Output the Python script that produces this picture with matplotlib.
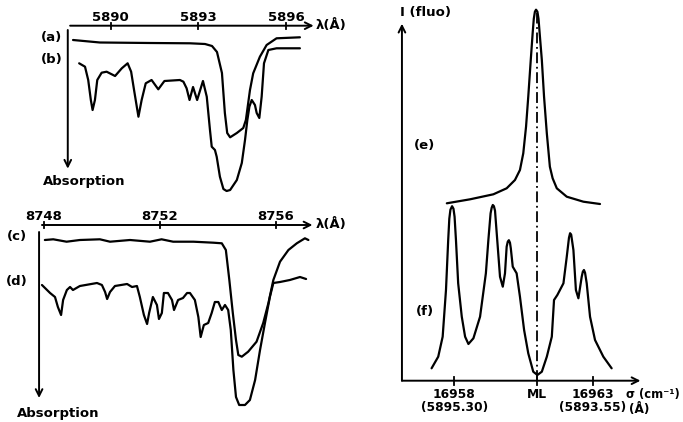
import matplotlib
matplotlib.use("Agg")
import matplotlib.pyplot as plt

# top-left panel: sodium D lines region, wavelength in Angstrom, absorption (arb. units, downward)
a_lam = [5888.71, 5889.63, 5891.35, 5892.72, 5893.23, 5893.47, 5893.64, 5893.81, 5893.91, 5893.99,
         5894.09, 5894.32, 5894.54, 5894.63, 5894.77, 5894.88, 5895.11, 5895.34, 5895.68, 5896.48]
a_abs = [0.143, 0.168, 0.173, 0.176, 0.183, 0.203, 0.263, 0.473, 0.873, 1.073,
         1.116, 1.073, 1.023, 0.943, 0.643, 0.476, 0.31, 0.193, 0.126, 0.116]

b_lam = [5888.92, 5889.12, 5889.23, 5889.32, 5889.38, 5889.46, 5889.54, 5889.69, 5889.86, 5890.15,
         5890.38, 5890.58, 5890.70, 5890.80, 5890.95, 5891.06, 5891.20, 5891.40, 5891.63, 5891.84,
         5892.37, 5892.49, 5892.60, 5892.70, 5892.82, 5892.96, 5893.16, 5893.29, 5893.40, 5893.46,
         5893.57, 5893.63, 5893.74, 5893.86, 5893.97, 5894.09, 5894.32, 5894.49, 5894.60, 5894.68,
         5894.75, 5894.83, 5894.94, 5895.00, 5895.09, 5895.17, 5895.25, 5895.40, 5895.68, 5896.48]
b_abs = [0.376, 0.41, 0.543, 0.743, 0.843, 0.743, 0.543, 0.47, 0.46, 0.503,
         0.426, 0.376, 0.46, 0.643, 0.91, 0.743, 0.576, 0.543, 0.636, 0.553,
         0.543, 0.56, 0.626, 0.743, 0.613, 0.743, 0.553, 0.71, 1.043, 1.21,
         1.243, 1.31, 1.51, 1.633, 1.653, 1.643, 1.543, 1.373, 1.143, 0.943,
         0.81, 0.743, 0.793, 0.873, 0.923, 0.71, 0.376, 0.243, 0.226, 0.226]

# bottom-left panel: 8750 A region
c_lam = [8748.03, 8748.32, 8748.78, 8749.24, 8749.93, 8750.28, 8750.97, 8751.66, 8752.06, 8752.46,
         8753.16, 8753.85, 8754.14, 8754.28, 8754.40, 8754.52, 8754.63, 8754.71, 8754.83, 8755.05,
         8755.34, 8755.57, 8755.75, 8755.92, 8756.15, 8756.44, 8756.73, 8757.01, 8757.13]
c_abs = [0.15, 0.143, 0.167, 0.15, 0.143, 0.167, 0.15, 0.167, 0.143, 0.167,
         0.167, 0.177, 0.183, 0.25, 0.55, 0.88, 1.15, 1.30, 1.317, 1.267,
         1.167, 0.98, 0.78, 0.55, 0.367, 0.25, 0.183, 0.133, 0.15]

d_lam = [8747.93, 8748.21, 8748.38, 8748.48, 8748.59, 8748.66, 8748.79, 8748.90, 8749.00, 8749.24,
         8749.83, 8750.00, 8750.11, 8750.18, 8750.28, 8750.45, 8750.87, 8751.04, 8751.21, 8751.31,
         8751.45, 8751.56, 8751.63, 8751.76, 8751.90, 8751.97, 8752.07, 8752.14, 8752.28, 8752.42,
         8752.49, 8752.63, 8752.80, 8752.94, 8753.04, 8753.21, 8753.33, 8753.41, 8753.52, 8753.67,
         8753.79, 8753.90, 8754.02, 8754.14, 8754.25, 8754.36, 8754.45, 8754.54, 8754.63, 8754.74,
         8754.94, 8755.11, 8755.29, 8755.46, 8755.63, 8755.80, 8755.92, 8756.15, 8756.49, 8756.84,
         8757.05]
d_abs = [0.60, 0.68, 0.72, 0.82, 0.90, 0.75, 0.65, 0.62, 0.65, 0.61,
         0.58, 0.60, 0.67, 0.74, 0.67, 0.61, 0.59, 0.62, 0.61, 0.72,
         0.90, 0.99, 0.88, 0.72, 0.80, 0.94, 0.88, 0.68, 0.68, 0.75,
         0.85, 0.75, 0.73, 0.68, 0.68, 0.75, 0.92, 1.12, 1.00, 0.98,
         0.88, 0.77, 0.77, 0.85, 0.80, 0.85, 1.05, 1.45, 1.72, 1.80,
         1.80, 1.75, 1.55, 1.25, 0.98, 0.72, 0.58, 0.57, 0.55, 0.52,
         0.54]

# right panel: fluorescence vs wavenumber (cm-1), intensity arb. units
e_sig = [16957.73, 16958.57, 16959.41, 16959.89, 16960.19, 16960.37, 16960.49, 16960.59, 16960.67,
         16960.76, 16960.83, 16960.87, 16960.91, 16960.95, 16961.00, 16961.04, 16961.08, 16961.16,
         16961.24, 16961.34, 16961.45, 16961.55, 16961.70, 16962.06, 16962.66, 16963.26]
e_int = [1.774, 1.814, 1.864, 1.924, 2.007, 2.107, 2.274, 2.54, 2.84,
         3.207, 3.48, 3.62, 3.69, 3.71, 3.69, 3.62, 3.48, 3.207,
         2.84, 2.474, 2.14, 2.024, 1.924, 1.84, 1.79, 1.767]

f_sig = [16957.18, 16957.42, 16957.58, 16957.70, 16957.78, 16957.82, 16957.86, 16957.92, 16957.97,
         16958.01, 16958.06, 16958.14, 16958.27, 16958.39, 16958.51, 16958.69, 16958.93, 16959.14,
         16959.23, 16959.31, 16959.35, 16959.39, 16959.43, 16959.47, 16959.55, 16959.65, 16959.75,
         16959.83, 16959.89, 16959.93, 16959.97, 16960.01, 16960.04, 16960.11, 16960.25, 16960.37,
         16960.52, 16960.67, 16960.85, 16961.00, 16961.16, 16961.34, 16961.52, 16961.60, 16961.72,
         16961.94, 16962.06, 16962.14, 16962.18, 16962.22, 16962.30, 16962.39, 16962.48, 16962.60,
         16962.64, 16962.68, 16962.72, 16962.78, 16962.90, 16963.08, 16963.38, 16963.68]
f_int = [0.124, 0.24, 0.44, 0.907, 1.407, 1.62, 1.71, 1.745, 1.72,
         1.64, 1.407, 0.974, 0.64, 0.44, 0.367, 0.424, 0.64, 1.074,
         1.407, 1.674, 1.73, 1.757, 1.745, 1.70, 1.407, 1.04, 0.94,
         1.074, 1.34, 1.39, 1.405, 1.38, 1.324, 1.14, 1.074, 0.84,
         0.507, 0.274, 0.09, 0.057, 0.09, 0.24, 0.44, 0.807, 0.857,
         0.974, 1.24, 1.43, 1.475, 1.46, 1.307, 0.907, 0.824, 1.04,
         1.09, 1.107, 1.08, 0.974, 0.64, 0.407, 0.24, 0.124]

top_ticks = [5890, 5893, 5896]
bot_ticks = [8748, 8752, 8756]
sig_ticks = [16958, 16961, 16963]
sig_labels = ["16958\n(5895.30)", "ML", "16963\n(5893.55)"]
ML = 16961

W, H = 683, 422
LW = 1.6
FONT = dict(fontsize=9.5, fontweight="bold", family="DejaVu Sans")
SMALL = dict(fontsize=8.8, fontweight="bold", family="DejaVu Sans")
CURVE = dict(color="black", lw=LW, solid_joinstyle="round", solid_capstyle="round")


def panel(box, xlim, ylim):
    x0, y0, x1, y1 = box
    ax = fig.add_axes([x0 / W, 1 - y1 / H, (x1 - x0) / W, (y1 - y0) / H])
    ax.set_xlim(*xlim)
    ax.set_ylim(*ylim)
    ax.axis("off")
    return ax


def arrow(ax, start, tip):
    ax.annotate("", xy=tip, xytext=start,
                arrowprops=dict(arrowstyle="->", lw=1.4, color="black",
                                mutation_scale=12, shrinkA=0, shrinkB=0))


def ticks(ax, xs, y, h):
    for x in xs:
        ax.plot([x, x], [y - h, y + h], color="black", lw=1.3)


fig = plt.figure(figsize=(W / 100, H / 100), dpi=100)

# top-left
ax1 = panel((0, 0, 360, 200), (5886.209, 5898.538), (1.743, -0.257))
ax1.plot(a_lam, a_abs, **CURVE)
ax1.plot(b_lam, b_abs, **CURVE)
arrow(ax1, (5888.61, 0.0), (5896.95, 0.0))
ticks(ax1, top_ticks, 0.0, 0.03)
for t in top_ticks:
    ax1.text(t, -0.02, str(t), ha="center", va="bottom", **FONT)
ax1.text(5897.03, 0.0, "λ(Å)", ha="left", va="center", **FONT)
arrow(ax1, (5888.53, 0.043), (5888.53, 1.43))
ax1.text(5887.98, 0.113, "(a)", ha="center", va="center", **FONT)
ax1.text(5887.98, 0.333, "(b)", ha="center", va="center", **FONT)
ax1.text(5889.09, 1.563, "Absorption", ha="center", va="center", **FONT)

# bottom-left
ax2 = panel((0, 200, 360, 422), (8746.481, 8758.912), (1.97, -0.25))
ax2.plot(c_lam, c_abs, **CURVE)
ax2.plot(d_lam, d_abs, **CURVE)
arrow(ax2, (8747.93, 0.0), (8757.27, 0.0))
ticks(ax2, bot_ticks, 0.0, 0.03)
for t in bot_ticks:
    ax2.text(t, -0.02, str(t), ha="center", va="bottom", **FONT)
ax2.text(8757.39, 0.0, "λ(Å)", ha="left", va="center", **FONT)
arrow(ax2, (8747.83, 0.07), (8747.83, 1.73))
ax2.text(8747.07, 0.12, "(c)", ha="center", va="center", **FONT)
ax2.text(8747.07, 0.57, "(d)", ha="center", va="center", **FONT)
ax2.text(8748.5, 1.88, "Absorption", ha="center", va="center", **FONT)

# right
ax3 = panel((360, 0, 683, 422), (16954.596, 16966.256), (-0.413, 3.807))
ax3.plot([ML, ML], [0.0, 3.72], color="black", lw=1.3, ls=(0, (6, 2, 1, 2)))
ax3.plot(e_sig, e_int, **CURVE)
ax3.plot(f_sig, f_int, **CURVE)
arrow(ax3, (16956.11, 0.0), (16964.72, 0.0))
arrow(ax3, (16956.11, 0.0), (16956.11, 3.57))
ticks(ax3, sig_ticks, 0.0, 0.04)
for t, lab in zip(sig_ticks, sig_labels):
    ax3.text(t, -0.07, lab, ha="center", va="top", linespacing=1.0, **SMALL)
ax3.text(16964.2, -0.07, "σ (cm⁻¹)", ha="left", va="top", fontsize=8.3,
         fontweight="bold", family="DejaVu Sans")
ax3.text(16964.66, -0.22, "(Å)", ha="center", va="top", **SMALL)
ax3.text(16956.05, 3.68, "I (fluo)", ha="left", va="center", **FONT)
ax3.text(16956.94, 2.357, "(e)", ha="center", va="center", **FONT)
ax3.text(16956.94, 0.687, "(f)", ha="center", va="center", **FONT)

fig.savefig("out.png", dpi=100)
